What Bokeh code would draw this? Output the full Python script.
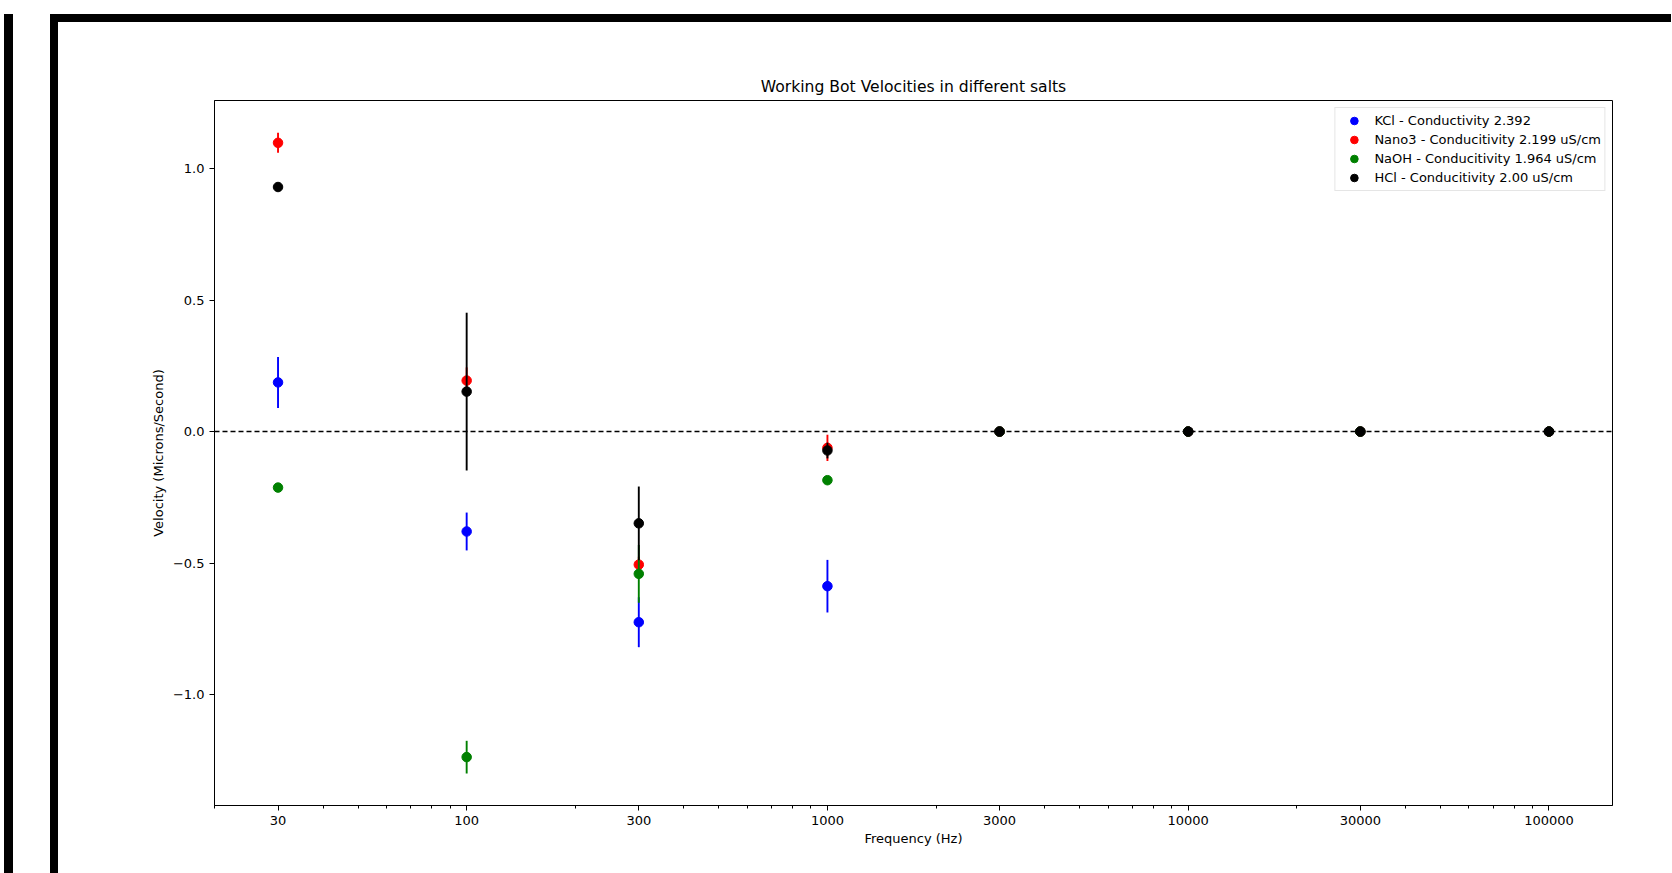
from bokeh.plotting import figure
from bokeh.models import (FixedTicker, CustomJSTickFormatter, Span, Legend, LegendItem, Range1d)
from bokeh.embed import file_html
from bokeh.resources import INLINE

# ---- data ----
freqs = [30, 100, 300, 1000, 3000, 10000, 30000, 100000]

kcl_v = [0.187, -0.380, -0.725, -0.588, 0.0, 0.0, 0.0, 0.0]
kcl_e = [0.097, 0.072, 0.095, 0.100, 0.0, 0.0, 0.0, 0.0]

nano3_v = [1.098, 0.194, -0.506, -0.062, 0.0, 0.0, 0.0, 0.0]
nano3_e = [0.038, 0.05, 0.03, 0.05, 0.0, 0.0, 0.0, 0.0]

naoh_v = [-0.213, -1.238, -0.541, -0.185, 0.0, 0.0, 0.0, 0.0]
naoh_e = [0.0, 0.062, 0.11, 0.0, 0.0, 0.0, 0.0, 0.0]

hcl_v = [0.930, 0.152, -0.349, -0.072, 0.0, 0.0, 0.0, 0.0]
hcl_e = [0.0, 0.30, 0.14, 0.03, 0.0, 0.0, 0.0, 0.0]

series_labels = ["KCl - Conductivity 2.392",
                 "Nano3 - Conducitivity 2.199 uS/cm",
                 "NaOH - Conducitivity 1.964 uS/cm",
                 "HCl - Conducitivity 2.00 uS/cm"]
series_colors = ["blue", "red", "green", "black"]

x_ticks = [30, 100, 300, 1000, 3000, 10000, 30000, 100000]
y_ticks = [-1.0, -0.5, 0.0, 0.5, 1.0]

title_text = "Working Bot Velocities in different salts"
x_label = "Frequency (Hz)"
y_label = "Velocity (Microns/Second)"

# minor ticks (2..9 per decade)
x_minor = []
for k in range(1, 6):
    for s in range(2, 10):
        v = s * 10 ** k
        if 20 <= v <= 150000:
            x_minor.append(v)

FONT = "DejaVu Sans"
FS = "13px"

# The figure sits inside a black screenshot-style frame (CSS border + shadows).
p = figure(width=1621, height=860, x_axis_type="log",
           x_range=Range1d(20, 150000), y_range=Range1d(-1.422, 1.259),
           output_backend="svg", toolbar_location=None,
           min_border_left=156, min_border_right=67,
           min_border_top=78, min_border_bottom=77,
           title=title_text,
           margin=(14, 0, 0, 50),
           styles={
               "border-left": "8px solid black",
               "border-top": "8px solid black",
               "box-shadow": "-37px 0 0 0 white, -46px 0 0 0 black",
               "background-color": "white",
           })

p.background_fill_color = "white"
p.border_fill_color = "white"
p.outline_line_color = "black"
p.outline_line_width = 1
p.grid.visible = False

p.title.text_font = FONT
p.title.text_font_size = "15.6px"
p.title.text_font_style = "normal"
p.title.align = "center"
p.title.text_color = "black"

# zero line
p.add_layout(Span(location=0, dimension="width", line_color="black",
                  line_dash="5 3", line_width=1.5))

all_v = [kcl_v, nano3_v, naoh_v, hcl_v]
all_e = [kcl_e, nano3_e, naoh_e, hcl_e]

items = []
for vals, errs, col, lab in zip(all_v, all_e, series_colors, series_labels):
    lo = [v - e for v, e in zip(vals, errs)]
    hi = [v + e for v, e in zip(vals, errs)]
    p.segment(x0=freqs, y0=lo, x1=freqs, y1=hi, line_color=col, line_width=1.9)
    r = p.scatter(x=freqs, y=vals, size=9.5, fill_color=col, line_color=col)
    items.append(LegendItem(label=lab, renderers=[r]))

legend = Legend(items=items, location="top_right")
legend.margin = 7
legend.padding = 3
legend.spacing = 0
legend.label_height = 19
legend.glyph_height = 19
legend.glyph_width = 31
legend.label_standoff = 5
legend.label_text_font = FONT
legend.label_text_font_size = FS
legend.label_text_color = "black"
legend.border_line_color = "#cccccc"
legend.border_line_width = 1
legend.background_fill_alpha = 0.8
p.add_layout(legend)

# axes
p.xaxis.ticker = FixedTicker(ticks=x_ticks, minor_ticks=x_minor)
p.xaxis.formatter = CustomJSTickFormatter(code="return Math.round(tick).toString();")
p.yaxis.ticker = FixedTicker(ticks=y_ticks)
p.yaxis.formatter = CustomJSTickFormatter(
    code="return (tick < 0 ? '\\u2212' : '') + Math.abs(tick).toFixed(1);")

for ax in (p.xaxis[0], p.yaxis[0]):
    ax.axis_line_color = "black"
    ax.major_tick_line_color = "black"
    ax.major_tick_out = 5
    ax.major_tick_in = 0
    ax.major_label_text_font = FONT
    ax.major_label_text_font_size = FS
    ax.major_label_text_color = "black"
    ax.axis_label_text_font = FONT
    ax.axis_label_text_font_size = FS
    ax.axis_label_text_font_style = "normal"
    ax.axis_label_text_color = "black"
    ax.major_label_standoff = 5

p.xaxis.axis_label = x_label
p.yaxis.axis_label = y_label
p.xaxis.minor_tick_out = 3
p.xaxis.minor_tick_in = 0
p.xaxis.minor_tick_line_color = "black"
p.yaxis.minor_tick_line_color = None
p.xaxis.axis_label_standoff = 3
p.yaxis.axis_label_standoff = 4

open("out.html", "w").write(file_html(p, INLINE))
